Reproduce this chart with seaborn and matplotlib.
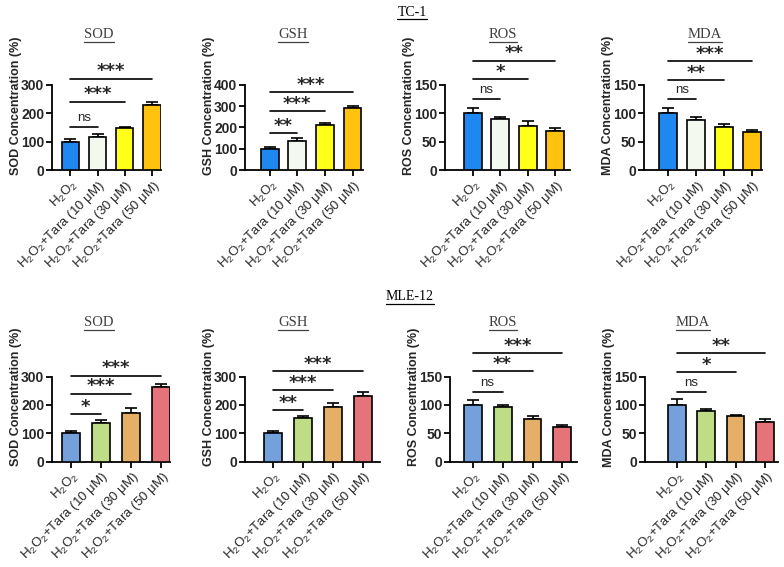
import matplotlib
matplotlib.use("Agg")
import matplotlib.pyplot as plt
import seaborn as sns
import pandas as pd
import numpy as np
from matplotlib.lines import Line2D

sns.set_theme(style="ticks")
plt.rcParams['font.family'] = ['Liberation Sans', 'DejaVu Sans']
plt.rcParams['mathtext.fontset'] = 'custom'
plt.rcParams['mathtext.rm'] = 'Liberation Sans'
plt.rcParams['mathtext.it'] = 'Liberation Sans:italic'
plt.rcParams['mathtext.bf'] = 'Liberation Sans:bold'

# ---------------- data ----------------
groups = ["H$_2$O$_2$",
          "H$_2$O$_2$+Tara (10 μM)",
          "H$_2$O$_2$+Tara (30 μM)",
          "H$_2$O$_2$+Tara (50 μM)"]
markers = ["SOD", "GSH", "ROS", "MDA"]
cell_lines = ["TC-1", "MLE-12"]

tc1_sod = [100, 118, 148, 230]
tc1_sod_err = [10, 8, 5, 10]
tc1_gsh = [100, 135, 212, 292]
tc1_gsh_err = [8, 15, 8, 8]
tc1_ros = [100, 90, 78, 69]
tc1_ros_err = [10, 3, 8, 5]
tc1_mda = [100, 88, 76, 67]
tc1_mda_err = [10, 6, 6, 3]

mle_sod = [100, 135, 172, 262]
mle_sod_err = [8, 13, 17, 13]
mle_gsh = [100, 152, 192, 230]
mle_gsh_err = [8, 10, 13, 17]
mle_ros = [100, 97, 75, 61]
mle_ros_err = [8, 3, 5, 3]
mle_mda = [100, 90, 80, 70]
mle_mda_err = [11, 3, 2, 5]

# significance: (compared group index, bar height value, label)
tc1_sod_sig = [(1, 151, "ns"), (2, 241, "***"), (3, 322, "***")]
tc1_gsh_sig = [(1, 175, "**"), (2, 276, "***"), (3, 365, "***")]
tc1_ros_sig = [(1, 125, "ns"), (2, 160, "*"), (3, 193, "**")]
tc1_mda_sig = [(1, 125, "ns"), (2, 159, "**"), (3, 192, "***")]
mle_sod_sig = [(1, 167, "*"), (2, 239, "***"), (3, 303, "***")]
mle_gsh_sig = [(1, 182, "**"), (2, 252, "***"), (3, 319, "***")]
mle_ros_sig = [(1, 123, "ns"), (2, 159, "**"), (3, 191, "***")]
mle_mda_sig = [(1, 122, "ns"), (2, 158, "*"), (3, 191, "**")]

tc1_colors = ['#1E88F0', '#F4F9F0', '#FFFF1A', '#FFC20E']
mle_colors = ['#74A0DC', '#BEDD86', '#E6AF68', '#E5737A']

tc1_yticks = [[0, 100, 200, 300], [0, 100, 200, 300, 400], [0, 50, 100, 150], [0, 50, 100, 150]]
mle_yticks = [[0, 100, 200, 300], [0, 100, 200, 300], [0, 50, 100, 150], [0, 50, 100, 150]]

rows = [
    dict(vals=[tc1_sod, tc1_gsh, tc1_ros, tc1_mda],
         errs=[tc1_sod_err, tc1_gsh_err, tc1_ros_err, tc1_mda_err],
         sigs=[tc1_sod_sig, tc1_gsh_sig, tc1_ros_sig, tc1_mda_sig],
         colors=tc1_colors, yticks=tc1_yticks),
    dict(vals=[mle_sod, mle_gsh, mle_ros, mle_mda],
         errs=[mle_sod_err, mle_gsh_err, mle_ros_err, mle_mda_err],
         sigs=[mle_sod_sig, mle_gsh_sig, mle_ros_sig, mle_mda_sig],
         colors=mle_colors, yticks=mle_yticks),
]

# ---------------- layout (pixels) ----------------
W, H = 784, 567
# (left axis px, first bar center px, spacing px, right end px)
geom = [
    [(52, 70.3, 27.2, 161), (245, 269.7, 27.6, 363), (445, 472.8, 27.5, 570), (644, 668.3, 27.8, 762)],
    [(52, 70.7, 30.1, 170), (245, 273.0, 29.9, 380), (450, 472.7, 29.9, 577), (645, 676.7, 29.4, 778)],
]
row_y0 = [170, 461.5]
ax_h = 85
bar_w = [0.64, 0.6]
title_x = [[99, 293, 503, 705], [99, 293, 503, 693]]
title_y = [35, 323]
group_title_pos = [(412, 12), (410, 297)]
ylabel_right_px = [[22, 215, 415, 614], [22, 215, 420, 615]]

fig = plt.figure(figsize=(W / 100, H / 100), dpi=100)
fig.patch.set_facecolor('white')

underline_texts = []

for r, row in enumerate(rows):
    for c in range(4):
        L, C0, s, R = geom[r][c]
        y0 = row_y0[r]
        ax = fig.add_axes([L / W, 1 - y0 / H, (R - L) / W, ax_h / H])
        df = pd.DataFrame({"group": groups, "value": row["vals"][c]})
        sns.barplot(data=df, x="group", y="value", hue="group", palette=row["colors"],
                    dodge=False, legend=False, errorbar=None, width=bar_w[r], saturation=1,
                    edgecolor='black', linewidth=1.2, ax=ax, zorder=3)
        vals = np.array(row["vals"][c])
        errs = np.array(row["errs"][c])
        ax.errorbar(np.arange(4), vals, yerr=[np.zeros(4), errs], fmt='none',
                    ecolor='black', elinewidth=1.2, capsize=4, capthick=1.2, zorder=2)
        yt = row["yticks"][c]
        ax.set_ylim(0, yt[-1])
        ax.set_yticks(yt)
        ax.set_xlim((L - C0) / s, (R - C0) / s)
        sns.despine(ax=ax)
        for sp in ["left", "bottom"]:
            ax.spines[sp].set_linewidth(1.3)
            ax.spines[sp].set_color('black')
        ax.tick_params(axis='both', direction='out', length=4, width=1.3, color='black', pad=1.5)
        ax.set_yticklabels([str(t) for t in yt], fontsize=10, fontweight='bold')
        ax.set_xticks(np.arange(4))
        ax.set_xticklabels(groups, rotation=45, ha='right', rotation_mode='anchor', fontsize=9.5)
        ax.set_xlabel("")
        ax.set_ylabel(f"{markers[c]} Concentration (%)", fontsize=9, fontweight='bold')
        ax.yaxis.set_label_coords((ylabel_right_px[r][c] - L) / (R - L), 0.76)
        ax.set_facecolor('white')
        # significance
        ymax = yt[-1]
        for (j, yv, lab) in row["sigs"][c]:
            ax.plot([0, j], [yv, yv], color='black', lw=1.2, clip_on=False, zorder=4)
            if lab == "ns":
                ax.text(j / 2, yv + ymax * 0.035, lab, ha='center', va='bottom', fontsize=9.5,
                        clip_on=False)
            else:
                ax.text(j / 2, yv - ymax * 0.02, lab, ha='center', va='bottom', fontsize=13,
                        fontweight='bold', family='DejaVu Sans', clip_on=False)
        # panel title
        t = fig.text(title_x[r][c] / W, 1 - title_y[r] / H, markers[c], ha='center', va='center',
                     fontsize=10.5, family='Liberation Serif', color='#404040')
        underline_texts.append(t)

for (gx, gy), name in zip(group_title_pos, cell_lines):
    t = fig.text(gx / W, 1 - gy / H, name, ha='center', va='center', fontsize=10,
                 family='Liberation Serif', color='black')
    underline_texts.append(t)

fig.canvas.draw()
renderer = fig.canvas.get_renderer()
for t in underline_texts:
    bb = t.get_window_extent(renderer)
    yline = bb.y0 - 0.5
    fig.add_artist(Line2D([bb.x0 / W, bb.x1 / W], [yline / H, yline / H],
                          transform=fig.transFigure, color=t.get_color(), lw=0.9))

fig.savefig("out.png", dpi=100, facecolor='white')
